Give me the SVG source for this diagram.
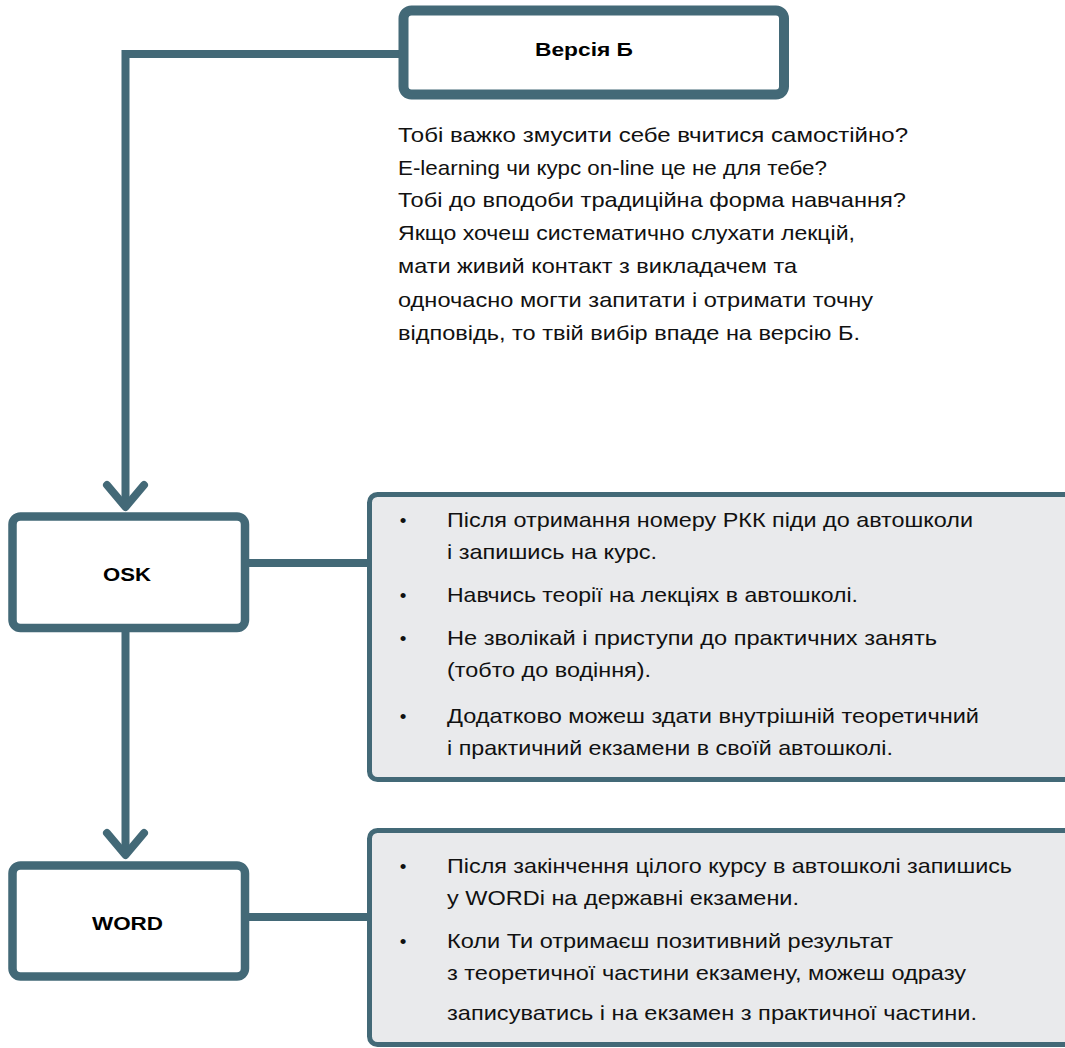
<svg xmlns="http://www.w3.org/2000/svg" width="1065" height="1048" viewBox="0 0 1065 1048">
<style>
.box{fill:#ffffff;stroke:#436977;stroke-linejoin:round}
.panel{fill:#e9eaec;stroke:#436977;stroke-width:5}
.con{fill:none;stroke:#436977;stroke-width:8}
.arr{fill:none;stroke:#436977;stroke-width:8;stroke-linecap:round;stroke-linejoin:round}
.t{font-family:"Liberation Sans",Arial,sans-serif;font-size:21px;fill:#111111}
.b{font-family:"Liberation Sans",Arial,sans-serif;font-weight:bold;fill:#000000}
.bul{font-family:"Liberation Sans",Arial,sans-serif;font-size:19px;fill:#111111;text-anchor:middle}
</style>
<rect width="1065" height="1048" fill="#ffffff"/>
<g id="connectors">
<polyline class="con" points="400,54 125.5,54 125.5,505"/>
<polyline class="arr" points="107,485 125.5,507 144,485"/>
<line class="con" x1="125.5" y1="630" x2="125.5" y2="854"/>
<polyline class="arr" points="107,833 125.5,855 144,833"/>
<line class="con" x1="245" y1="563" x2="370" y2="563"/>
<line class="con" x1="245" y1="917" x2="370" y2="917"/>
</g>
<g id="node-versiya-b">
<rect class="box" x="403.5" y="10.5" width="380.5" height="84" rx="8" stroke-width="10"/>
<text class="b" x="535" y="56" font-size="18" textLength="98" lengthAdjust="spacingAndGlyphs">Версія Б</text>
</g>
<g id="description">
<text class="t" x="398" y="142" textLength="510" lengthAdjust="spacingAndGlyphs">Тобі важко змусити себе вчитися самостійно?</text>
<text class="t" x="398" y="175" textLength="429" lengthAdjust="spacingAndGlyphs">E-learning чи курс on-line це не для тебе?</text>
<text class="t" x="398" y="207" textLength="508" lengthAdjust="spacingAndGlyphs">Тобі до вподоби традиційна форма навчання?</text>
<text class="t" x="398" y="240" textLength="457" lengthAdjust="spacingAndGlyphs">Якщо хочеш систематично слухати лекцій,</text>
<text class="t" x="398" y="273" textLength="399" lengthAdjust="spacingAndGlyphs">мати живий контакт з викладачем та</text>
<text class="t" x="398" y="307" textLength="475" lengthAdjust="spacingAndGlyphs">одночасно могти запитати і отримати точну</text>
<text class="t" x="398" y="340" textLength="462" lengthAdjust="spacingAndGlyphs">відповідь, то твій вибір впаде на версію Б.</text>
</g>
<g id="node-osk">
<rect class="box" x="12.5" y="516.5" width="232.5" height="111.5" rx="8" stroke-width="8.5"/>
<text class="b" x="103" y="581" font-size="19" textLength="48" lengthAdjust="spacingAndGlyphs">OSK</text>
</g>
<g id="panel-osk">
<rect class="panel" x="369.5" y="494.5" width="710" height="285" rx="8"/>
<text class="bul" x="403" y="527">•</text>
<text class="t" x="447" y="527" textLength="526" lengthAdjust="spacingAndGlyphs">Після отримання номеру РКК піди до автошколи</text>
<text class="t" x="447" y="559" textLength="210" lengthAdjust="spacingAndGlyphs">і запишись на курс.</text>
<text class="bul" x="403" y="602">•</text>
<text class="t" x="447" y="602" textLength="411" lengthAdjust="spacingAndGlyphs">Навчись теорії на лекціях в автошколі.</text>
<text class="bul" x="403" y="645">•</text>
<text class="t" x="447" y="645" textLength="490" lengthAdjust="spacingAndGlyphs">Не зволікай і приступи до практичних занять</text>
<text class="t" x="447" y="677" textLength="204" lengthAdjust="spacingAndGlyphs">(тобто до водіння).</text>
<text class="bul" x="403" y="723">•</text>
<text class="t" x="447" y="723" textLength="532" lengthAdjust="spacingAndGlyphs">Додатково можеш здати внутрішній теоретичний</text>
<text class="t" x="447" y="755" textLength="446" lengthAdjust="spacingAndGlyphs">і практичний екзамени в своїй автошколі.</text>
</g>
<g id="node-word">
<rect class="box" x="12.5" y="865.5" width="232.5" height="111" rx="8" stroke-width="8.5"/>
<text class="b" x="92" y="930" font-size="19" textLength="71" lengthAdjust="spacingAndGlyphs">WORD</text>
</g>
<g id="panel-word">
<rect class="panel" x="369.5" y="830.5" width="710" height="214" rx="8"/>
<text class="bul" x="403" y="873">•</text>
<text class="t" x="447" y="873" textLength="565" lengthAdjust="spacingAndGlyphs">Після закінчення цілого курсу в автошколі запишись</text>
<text class="t" x="447" y="905" textLength="352" lengthAdjust="spacingAndGlyphs">у WORDi на державні екзамени.</text>
<text class="bul" x="403" y="948">•</text>
<text class="t" x="447" y="948" textLength="446" lengthAdjust="spacingAndGlyphs">Коли Ти отримаєш позитивний результат</text>
<text class="t" x="447" y="980" textLength="519" lengthAdjust="spacingAndGlyphs">з теоретичної частини екзамену, можеш одразу</text>
<text class="t" x="447" y="1020" textLength="530" lengthAdjust="spacingAndGlyphs">записуватись і на екзамен з практичної частини.</text>
</g>
</svg>
